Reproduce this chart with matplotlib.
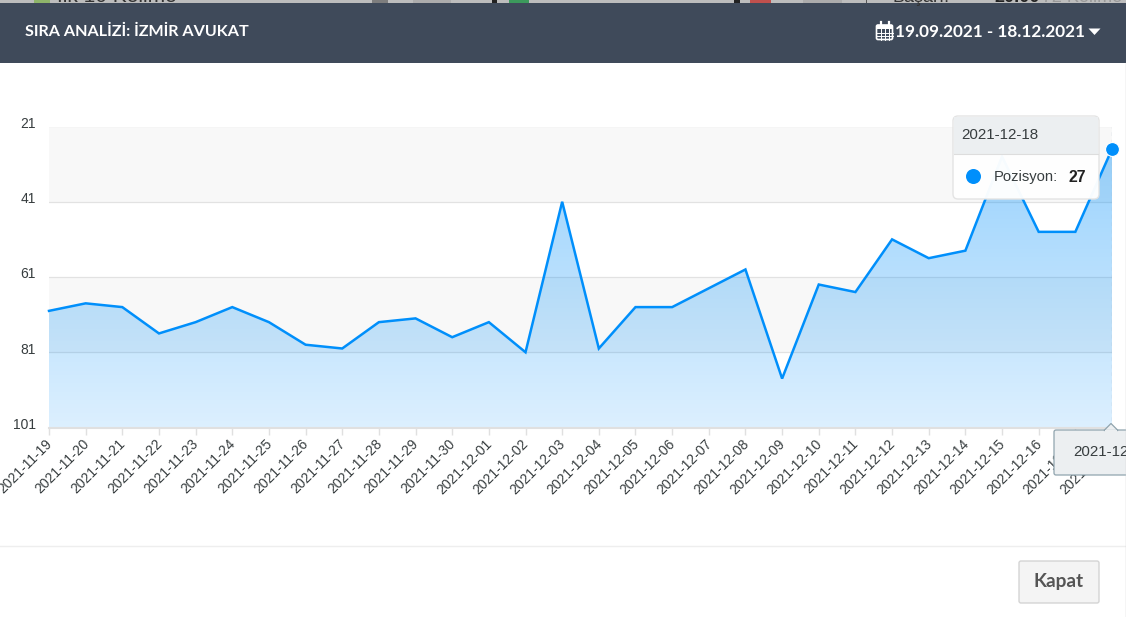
import numpy as np
import matplotlib
matplotlib.use('Agg')
import matplotlib.pyplot as plt
from matplotlib.patches import FancyBboxPatch, Rectangle, Polygon, Circle
from matplotlib.transforms import ScaledTranslation

dates = ['2021-11-19', '2021-11-20', '2021-11-21', '2021-11-22', '2021-11-23', '2021-11-24',
         '2021-11-25', '2021-11-26', '2021-11-27', '2021-11-28', '2021-11-29', '2021-11-30',
         '2021-12-01', '2021-12-02', '2021-12-03', '2021-12-04', '2021-12-05', '2021-12-06',
         '2021-12-07', '2021-12-08', '2021-12-09', '2021-12-10', '2021-12-11', '2021-12-12',
         '2021-12-13', '2021-12-14', '2021-12-15', '2021-12-16', '2021-12-17', '2021-12-18']
positions = [70, 68, 69, 76, 73, 69, 73, 79, 80, 73, 72, 77, 73, 81, 41, 80, 69, 69, 64, 59,
             88, 63, 65, 51, 56, 54, 29, 49, 49, 27]
y_ticks = [21, 41, 61, 81, 101]

BLUE = '#008ffb'
W, H = 1126, 617
HEAD_FONT = ['Lato', 'DejaVu Sans']

plt.rcParams['font.family'] = ['Liberation Sans', 'DejaVu Sans']
fig = plt.figure(figsize=(W / 100, H / 100), dpi=100)

# chart axes
L, R, T, B = 49, 1112, 126.5, 427.5
ax = fig.add_axes([L / W, 1 - B / H, (R - L) / W, (B - T) / H], zorder=1)
ax.patch.set_alpha(0)
x = np.arange(len(dates))
ax.set_xlim(0, len(dates) - 1)

# striped rows
for i in range(len(y_ticks) - 1):
    if i % 2 == 0:
        ax.axhspan(y_ticks[i], y_ticks[i + 1], color='#f8f8f8', lw=0, zorder=0)
ax.grid(axis='y', color='#e2e2e2', lw=0.9, zorder=1)
ax.set_axisbelow(True)

# area gradient, clipped to the series
grad = np.linspace(0, 1, 256).reshape(-1, 1)
rgba = np.zeros((256, 1, 4))
rgba[..., :3] = [0.0, 0.561, 0.984]
rgba[..., 3] = 0.42 - 0.28 * grad
im = ax.imshow(rgba, extent=[0, len(dates) - 1, 101, 21], aspect='auto', zorder=2, interpolation='bilinear')
ax.set_ylim(101, 21)
clip = Polygon(list(zip(x, positions)) + [(x[-1], 101), (0, 101)], closed=True, transform=ax.transData,
               facecolor='none', edgecolor='none')
ax.add_patch(clip)
im.set_clip_path(clip)

ax.plot(x, positions, color=BLUE, lw=1.8, zorder=3, solid_joinstyle='miter', clip_on=False)
ax.axvline(x[-1], color='#a9b9c9', lw=0.9, ls=(0, (3, 3)), zorder=3)
ax.plot(x[-1], positions[-1], 'o', ms=10, color=BLUE, mec='white', mew=0.8, clip_on=False, zorder=6)

ax.set_xticks(x)
ax.set_xticklabels(dates, rotation=45, ha='right', rotation_mode='anchor', fontsize=10, color='#373d3f')
ax.set_yticks(y_ticks)
ax.set_yticklabels(y_ticks, fontsize=10, color='#373d3f')
ax.tick_params(axis='x', length=5, width=1, color='#e0e0e0', pad=1.5)
ax.tick_params(axis='y', length=0, pad=9.5)
for s in ['top', 'left', 'right']:
    ax.spines[s].set_visible(False)
ax.spines['bottom'].set_color('#e0e0e0')
ax.spines['bottom'].set_linewidth(1.5)

# nudge tick labels the way the browser placed them
for lab in ax.get_yticklabels():
    lab.set_transform(lab.get_transform() + ScaledTranslation(0, 4 / 100, fig.dpi_scale_trans))
for lab in ax.get_xticklabels():
    lab.set_transform(lab.get_transform() + ScaledTranslation(-4 / 100, 0, fig.dpi_scale_trans))

# overlay layer for header, tooltips and footer, pixel coords with y going down
ov = fig.add_axes([0, 0, 1, 1], zorder=5)
ov.set_xlim(0, W)
ov.set_ylim(H, 0)
ov.axis('off')
ov.patch.set_alpha(0)

# sliver of the page behind the modal
strip = Rectangle((0, 0), W, 3, fc='#bdbdbd', lw=0)
ov.add_patch(strip)
for x0, x1, col in [(34, 50, '#8fb56a'), (372, 388, '#7d7d7d'), (413, 451, '#acacac'), (492, 497, '#222222'),
                    (509, 529, '#3c9a5c'), (734, 740, '#222222'), (750, 771, '#c0504d'), (803, 842, '#acacac'),
                    (866, 867, '#555555')]:
    ov.add_patch(Rectangle((x0, 0), x1 - x0, 3, fc=col, lw=0))
for tx, s, col, wt in [(57, 'İlk 10 Kelime', '#333333', 'normal'), (892, 'Başarı:', '#333333', 'normal'),
                       (994, '20.00', '#222222', 'bold'), (1042, '72 Kelime', '#999999', 'normal')]:
    t = ov.text(tx, 2.5, s, color=col, fontsize=15 if tx == 57 else 13, fontweight=wt, va='baseline', ha='left')
    t.set_clip_path(Rectangle((0, 0), W, 3, transform=ov.transData))

ov.add_patch(Rectangle((0, 3), W, 60, fc='#3f4a5a', lw=0))
ov.text(25, 32, 'SIRA ANALİZİ: İZMİR AVUKAT', color='white', fontsize=11.6, fontweight='bold',
        family=HEAD_FONT, va='center', ha='left')
ov.text(1085, 32, '19.09.2021 - 18.12.2021', color='white', fontsize=12.3, fontweight='bold',
        family=HEAD_FONT, va='center', ha='right')

# calendar icon
ov.add_patch(FancyBboxPatch((876.5, 25), 16, 14.5, boxstyle='round,pad=0,rounding_size=1.5', fc='none', ec='white', lw=1.2))
ov.add_patch(Rectangle((877, 25), 15.5, 4, fc='white', lw=0))
for gx in [880.5, 884.5, 888.5]:
    ov.plot([gx, gx], [29, 39.5], color='white', lw=0.7)
for gy in [32.5, 36]:
    ov.plot([876.5, 892.5], [gy, gy], color='white', lw=0.7)
for gx in [880.5, 888.5]:
    ov.plot([gx, gx], [22, 26], color='white', lw=1.6)
# caret
ov.add_patch(Polygon([(1088.5, 28.5), (1100.5, 28.5), (1094.5, 35)], closed=True, fc='white', lw=0))

# point tooltip
ov.add_patch(FancyBboxPatch((953, 116), 146, 83, boxstyle='round,pad=0,rounding_size=5', fc='white', alpha=0.97,
                            ec='#e3e3e3', lw=1))
ov.add_patch(Rectangle((954, 117), 144, 36.5, fc='#eceff1', lw=0))
ov.plot([954, 1098], [153.5, 153.5], color='#dddddd', lw=0.8)
ov.text(961, 135, dates[-1], fontsize=10.9, color='#373d3f', va='center', ha='left')
ov.add_patch(Circle((973.5, 176.5), 7.5, fc=BLUE, lw=0))
ov.text(994, 177, 'Pozisyon:', fontsize=10.6, color='#373d3f', va='center', ha='left')
ov.text(1086, 177, str(positions[-1]), fontsize=11.4, fontweight='bold', color='#222222', va='center', ha='right')

# x crosshair tooltip, runs off the right edge
ov.add_patch(FancyBboxPatch((1054, 430), 90, 45, boxstyle='round,pad=0,rounding_size=2', fc='#eceff1', ec='#90a4ae', lw=0.9))
ov.add_patch(Polygon([(1104, 430.5), (1111, 423.5), (1118, 430.5)], closed=True, fc='#eceff1', ec='#90a4ae', lw=0.9))
ov.add_patch(Rectangle((1105, 430), 12, 2, fc='#eceff1', lw=0))
ov.text(1073, 452, dates[-1], fontsize=10.9, color='#373d3f', va='center', ha='left', clip_on=True)

# footer
ov.plot([0, W], [545.5, 545.5], color='#eeeeee', lw=1)
ov.add_patch(FancyBboxPatch((1019, 561), 80, 42, boxstyle='round,pad=0,rounding_size=2', fc='#f4f4f4',
                            ec='#d4d4d4', lw=1))
ov.text(1059, 582, 'Kapat', fontsize=13.7, fontweight='bold', color='#555555',
        family=HEAD_FONT, va='center', ha='center')
ov.plot([1125.5, 1125.5], [63, H], color='#cfcfcf', lw=1)

fig.savefig('out.png', dpi=100)
